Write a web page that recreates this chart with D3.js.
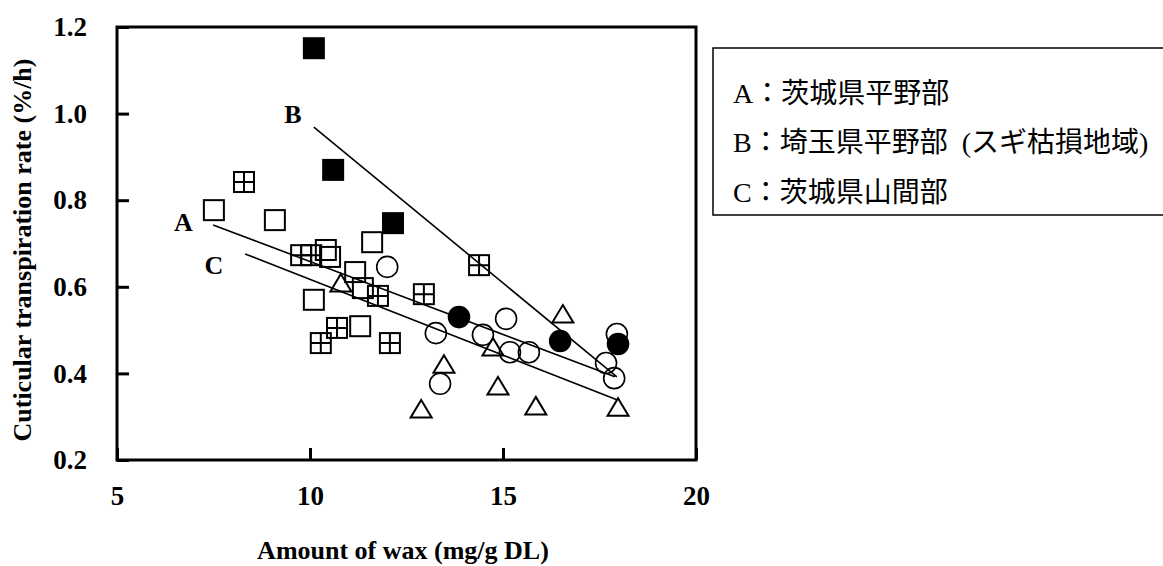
<!DOCTYPE html>
<html>
<head>
<meta charset="utf-8">
<script src="https://cdn.jsdelivr.net/npm/d3@7"></script>
<style>
  body { margin: 0; background: #fff; }
  svg { display: block; }
</style>
</head>
<body>
<script>
// tick labels
var xTicks = [5, 10, 15, 20];
var yTicks = [0.2, 0.4, 0.6, 0.8, 1.0, 1.2];

// points, [wax, rate]
var openSquares = [[7.51, 0.777], [9.09, 0.754], [11.61, 0.703], [10.41, 0.685], [10.52, 0.669],
    [11.17, 0.634], [11.37, 0.597], [10.10, 0.570], [11.30, 0.509]];
var gridSquares = [[8.29, 0.842], [9.77, 0.673], [10.03, 0.673], [11.76, 0.579], [10.70, 0.505],
    [10.28, 0.470], [12.07, 0.470], [12.95, 0.583], [14.38, 0.650]];
var filledSquares = [[10.10, 1.151], [10.60, 0.870], [12.15, 0.747]];
var openCircles = [[12.00, 0.646], [15.08, 0.526], [17.95, 0.491], [13.26, 0.493], [14.48, 0.489],
    [15.18, 0.449], [15.67, 0.449], [17.67, 0.424], [17.88, 0.389], [13.37, 0.376]];
var filledCircles = [[13.86, 0.530], [16.48, 0.475], [17.98, 0.468]];
var triangles = [[10.80, 0.609], [16.55, 0.537], [14.74, 0.461], [13.47, 0.421], [14.87, 0.371],
    [12.88, 0.318], [15.85, 0.325], [17.98, 0.322]];

// fitted lines
var lineNames = ["A", "B", "C"];
var lineEnds = [
    [[7.49, 0.743], [17.90, 0.392]],
    [[10.10, 0.969], [17.95, 0.392]],
    [[8.32, 0.676], [17.95, 0.339]]
];
var lineLabelAt = [[6.72, 0.75], [9.56, 1.0], [7.51, 0.65]];

var legendLines = ["A：茨城県平野部", "B：埼玉県平野部\u00a0 (スギ枯損地域)", "C：茨城県山間部"];

var width = 1163,
    height = 566;

var serif = "'Liberation Serif', 'Times New Roman', serif";
var cjk = "'Liberation Serif', 'Noto Sans CJK JP', serif";

var x = d3.scaleLinear().domain([5, 20]).range([117, 696]);
var y = d3.scaleLinear().domain([0.2, 1.2]).range([460, 27]);

var svg = d3.select("body").append("svg")
    .attr("width", width)
    .attr("height", height);

// axes, ticks point inward
var xAxis = svg.append("g")
    .attr("transform", "translate(0,460)")
    .call(d3.axisBottom(x).tickValues(xTicks).tickFormat(d3.format("d"))
        .tickSizeInner(-12).tickSizeOuter(0).tickPadding(26));

var yAxis = svg.append("g")
    .attr("transform", "translate(117,0)")
    .call(d3.axisLeft(y).tickValues(yTicks).tickFormat(d3.format(".1f"))
        .tickSizeInner(-12).tickSizeOuter(0).tickPadding(30));

[xAxis, yAxis].forEach(function(a) {
    a.select(".domain").remove();
    a.selectAll("line").attr("stroke", "#000").attr("stroke-width", 3);
    a.selectAll("text")
        .attr("fill", "#000")
        .style("font-family", serif)
        .style("font-weight", "bold")
        .style("font-size", "27px");
});

// frame
svg.append("rect")
    .attr("x", x(5))
    .attr("y", y(1.2))
    .attr("width", x(20) - x(5))
    .attr("height", y(0.2) - y(1.2))
    .attr("fill", "none")
    .attr("stroke", "#000")
    .attr("stroke-width", 3);

// axis titles
svg.append("text")
    .attr("x", 403)
    .attr("y", 559)
    .attr("text-anchor", "middle")
    .style("font-family", serif)
    .style("font-weight", "bold")
    .style("font-size", "26px")
    .text("Amount of wax (mg/g DL)");

svg.append("text")
    .attr("transform", "translate(31,250) rotate(-90)")
    .attr("text-anchor", "middle")
    .style("font-family", serif)
    .style("font-weight", "bold")
    .style("font-size", "26px")
    .text("Cuticular transpiration rate (%/h)");

// fitted lines
var line = d3.line()
    .x(function(d) { return x(d[0]); })
    .y(function(d) { return y(d[1]); });

svg.selectAll("path.fit")
    .data(lineEnds)
    .enter().append("path")
    .attr("class", "fit")
    .attr("d", line)
    .attr("fill", "none")
    .attr("stroke", "#000")
    .attr("stroke-width", 1.6);

svg.selectAll("text.lineLabel")
    .data(lineNames)
    .enter().append("text")
    .attr("class", "lineLabel")
    .attr("x", function(d, i) { return x(lineLabelAt[i][0]); })
    .attr("y", function(d, i) { return y(lineLabelAt[i][1]); })
    .attr("dy", "0.35em")
    .attr("text-anchor", "middle")
    .style("font-family", serif)
    .style("font-weight", "bold")
    .style("font-size", "26px")
    .text(function(d) { return d; });

// markers
var half = 10;

function squares(data, fill) {
    svg.append("g").selectAll("rect")
        .data(data)
        .enter().append("rect")
        .attr("x", function(d) { return x(d[0]) - half; })
        .attr("y", function(d) { return y(d[1]) - half; })
        .attr("width", half * 2)
        .attr("height", half * 2)
        .attr("fill", fill)
        .attr("stroke", "#000")
        .attr("stroke-width", 2);
}

squares(openSquares, "none");
squares(filledSquares, "#000");
squares(gridSquares, "none");

svg.append("g").selectAll("path")
    .data(gridSquares)
    .enter().append("path")
    .attr("d", function(d) {
        var cx = x(d[0]), cy = y(d[1]);
        return "M" + (cx - half) + "," + cy + "H" + (cx + half) +
            "M" + cx + "," + (cy - half) + "V" + (cy + half);
    })
    .attr("stroke", "#000")
    .attr("stroke-width", 2);

function circles(data, fill) {
    svg.append("g").selectAll("circle")
        .data(data)
        .enter().append("circle")
        .attr("cx", function(d) { return x(d[0]); })
        .attr("cy", function(d) { return y(d[1]); })
        .attr("r", 10.5)
        .attr("fill", fill)
        .attr("stroke", "#000")
        .attr("stroke-width", 1.6);
}

circles(openCircles, "none");
circles(filledCircles, "#000");

svg.append("g").selectAll("path")
    .data(triangles)
    .enter().append("path")
    .attr("d", function(d) {
        var cx = x(d[0]), cy = y(d[1]);
        return "M" + cx + "," + (cy - 9) + "L" + (cx + 10.5) + "," + (cy + 8.5) +
            "L" + (cx - 10.5) + "," + (cy + 8.5) + "Z";
    })
    .attr("fill", "none")
    .attr("stroke", "#000")
    .attr("stroke-width", 2);

// legend box
svg.append("rect")
    .attr("x", 713)
    .attr("y", 48)
    .attr("width", 470)
    .attr("height", 167)
    .attr("fill", "none")
    .attr("stroke", "#000")
    .attr("stroke-width", 1.5);

svg.selectAll("text.legend")
    .data(legendLines)
    .enter().append("text")
    .attr("class", "legend")
    .attr("x", 733)
    .attr("y", function(d, i) { return 93 + i * 49.5; })
    .attr("dy", "0.35em")
    .style("font-family", cjk)
    .style("font-size", "28px")
    .text(function(d) { return d; });
</script>
</body>
</html>
